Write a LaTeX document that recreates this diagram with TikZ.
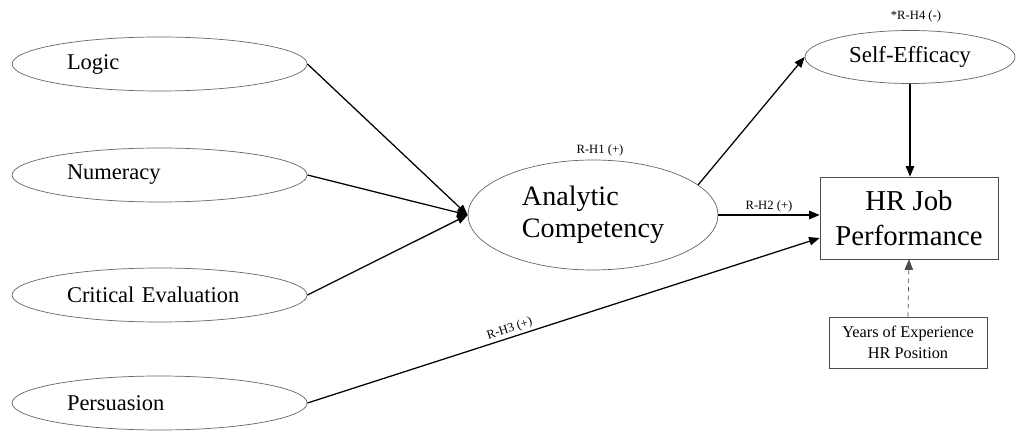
\documentclass[tikz,border=0pt]{standalone}
\usepackage{fontspec}
\setmainfont{Liberation Serif}
\usetikzlibrary{arrows.meta,shapes.geometric}

\tikzset{
    factor/.style={ellipse, draw=black!60, line width=0.5pt, inner sep=0pt,
        minimum width=7.375cm, minimum height=1.35cm,
        text width=4.63cm, align=left, font=\fontsize{16}{19}\selectfont},
    link/.style={line width=0.9pt, -{Triangle[length=7.5pt,width=6pt]}},
    hyp/.style={font=\fontsize{9}{11}\selectfont, inner sep=1.5pt},
}

\begin{document}
\begin{tikzpicture}
    \useasboundingbox (0,0) rectangle (25.4,-10.775);

    % Faktoren links
    \foreach \name/\y/\txt in {logic/-1.6/Logic, num/-4.375/Numeracy,
                               crit/-7.375/Critical Evaluation, pers/-10.075/Persuasion} {
        \node[factor] (\name) at (3.99, \y) {\txt};
    }

    % Mediator und Ziel
    \node[ellipse, draw=black!60, line width=0.5pt, inner sep=0pt,
          minimum width=6.25cm, minimum height=2.75cm, align=left,
          font=\fontsize{20}{23}\selectfont] (ana) at (14.825, -5.375) {Analytic\\Competency};
    \node[ellipse, draw=black!60, line width=0.5pt, inner sep=0pt,
          minimum width=5.25cm, minimum height=1.325cm,
          font=\fontsize{16.3}{19}\selectfont] (self) at (22.75, -1.425) {Self-Efficacy};
    \node[draw=black!70, line width=0.5pt, minimum width=4.45cm, minimum height=2.05cm,
          align=center, font=\fontsize{20.5}{25}\selectfont] (hr) at (22.725, -5.45) {HR Job\\Performance};
    \node[draw=black!70, line width=0.5pt, minimum width=3.95cm, minimum height=1.275cm,
          align=center, font=\fontsize{11.6}{15}\selectfont] (yrs) at (22.7, -8.5625) {Years of Experience\\HR Position};

    % Hypothesen
    \node[hyp] (h1) at (15.0, -3.75) {R-H1 (+)};
    \node[hyp] (h4) at (22.9, -0.4) {*R-H4 (-)};

    % Pfade
    \foreach \src in {logic, num, crit} {
        \draw[link] (\src.east) -- (ana.west);
    }
    \draw[link] (ana.16) -- (self.west);
    \draw[link] (ana.east) -- node[hyp, above] {R-H2 (+)} (ana.east -| hr.west);
    \draw[link] (pers.east) -- node[hyp, sloped, above, pos=0.4] {R-H3 (+)} ([yshift=-0.5cm]hr.west);
    \draw[link] (self.south) -- (self.south |- hr.north);
    \draw[link, line width=0.5pt, dashed, black!70] (yrs.north) -- (hr.south);
\end{tikzpicture}
\end{document}
